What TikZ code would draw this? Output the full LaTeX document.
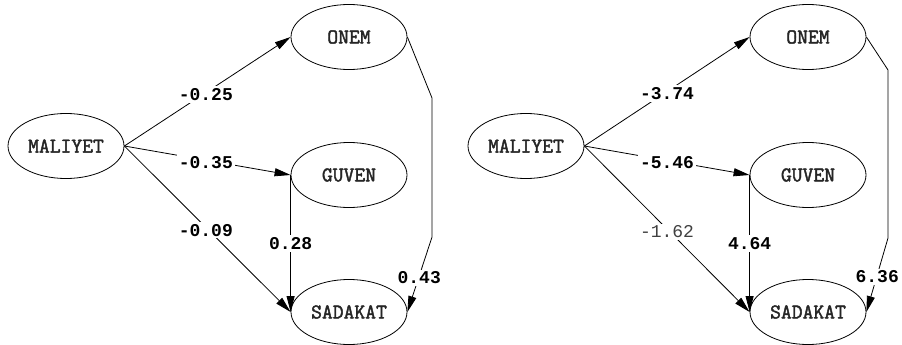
\documentclass[tikz,border=0pt]{standalone}
\usepackage{fontspec}
\setmonofont{Liberation Mono}
\newfontfamily\nodefont[FakeBold=2]{Latin Modern Mono}
\usetikzlibrary{shapes.geometric,arrows.meta}
\tikzset{
  latent/.style={ellipse, draw, line width=0.8pt, minimum width=116pt, minimum height=65pt, inner sep=0pt,
    font=\fontsize{21}{21}\selectfont\nodefont, text=black!85},
  lbl/.style={fill=white, inner sep=2pt, font=\fontsize{18}{18}\selectfont\ttfamily\bfseries, text=black},
  path/.style={draw, line width=0.8pt, -{Triangle[length=16pt,width=8pt]}},
}
\begin{document}
\begin{tikzpicture}[x=1pt,y=-1pt]
\useasboundingbox (0,0) rectangle (902,345);
% left diagram
\node[latent] (LM) at (66,146) {MALIYET};
\node[latent] (LO) at (349,37) {ONEM};
\node[latent] (LG) at (349,175) {GUVEN};
\node[latent] (LS) at (349,312) {SADAKAT};
\coordinate (LA) at (432,98);
\coordinate (LB) at (432,237);
\draw[path] (LM.east) -- node[lbl,pos=0.49,yshift=-2pt] {-0.25} (LO.west);
\draw[path] (LM.east) -- node[lbl,pos=0.49,yshift=-2pt] {-0.35} (LG.west);
\draw[path] (LM.east) -- node[lbl,pos=0.49,yshift=-3pt] {-0.09} (LS.west);
\draw[path] (LG.west) -- node[lbl,pos=0.5] {0.28} (LS.west);
\draw[path] (LO.east) -- (LA) -- (LB) -- node[lbl,pos=0.52,yshift=-2pt] {0.43} (LS.east);
% right diagram
\node[latent] (RM) at (526,146) {MALIYET};
\node[latent] (RO) at (808,37) {ONEM};
\node[latent] (RG) at (808,175) {GUVEN};
\node[latent] (RS) at (808,312) {SADAKAT};
\coordinate (RA) at (888,70);
\coordinate (RB) at (888,238);
\draw[path] (RM.east) -- node[lbl,pos=0.5,yshift=-2pt] {-3.74} (RO.west);
\draw[path] (RM.east) -- node[lbl,pos=0.5,yshift=-2pt] {-5.46} (RG.west);
\draw[path] (RM.east) -- node[lbl,pos=0.5,yshift=-3pt,font=\fontsize{18}{18}\selectfont\ttfamily,text=black!75] {-1.62} (RS.west);
\draw[path] (RG.west) -- node[lbl,pos=0.5] {4.64} (RS.west);
\draw[path] (RO.east) -- (RA) -- (RB) -- node[lbl,pos=0.5,yshift=-2pt] {6.36} (RS.east);
\end{tikzpicture}
\end{document}
